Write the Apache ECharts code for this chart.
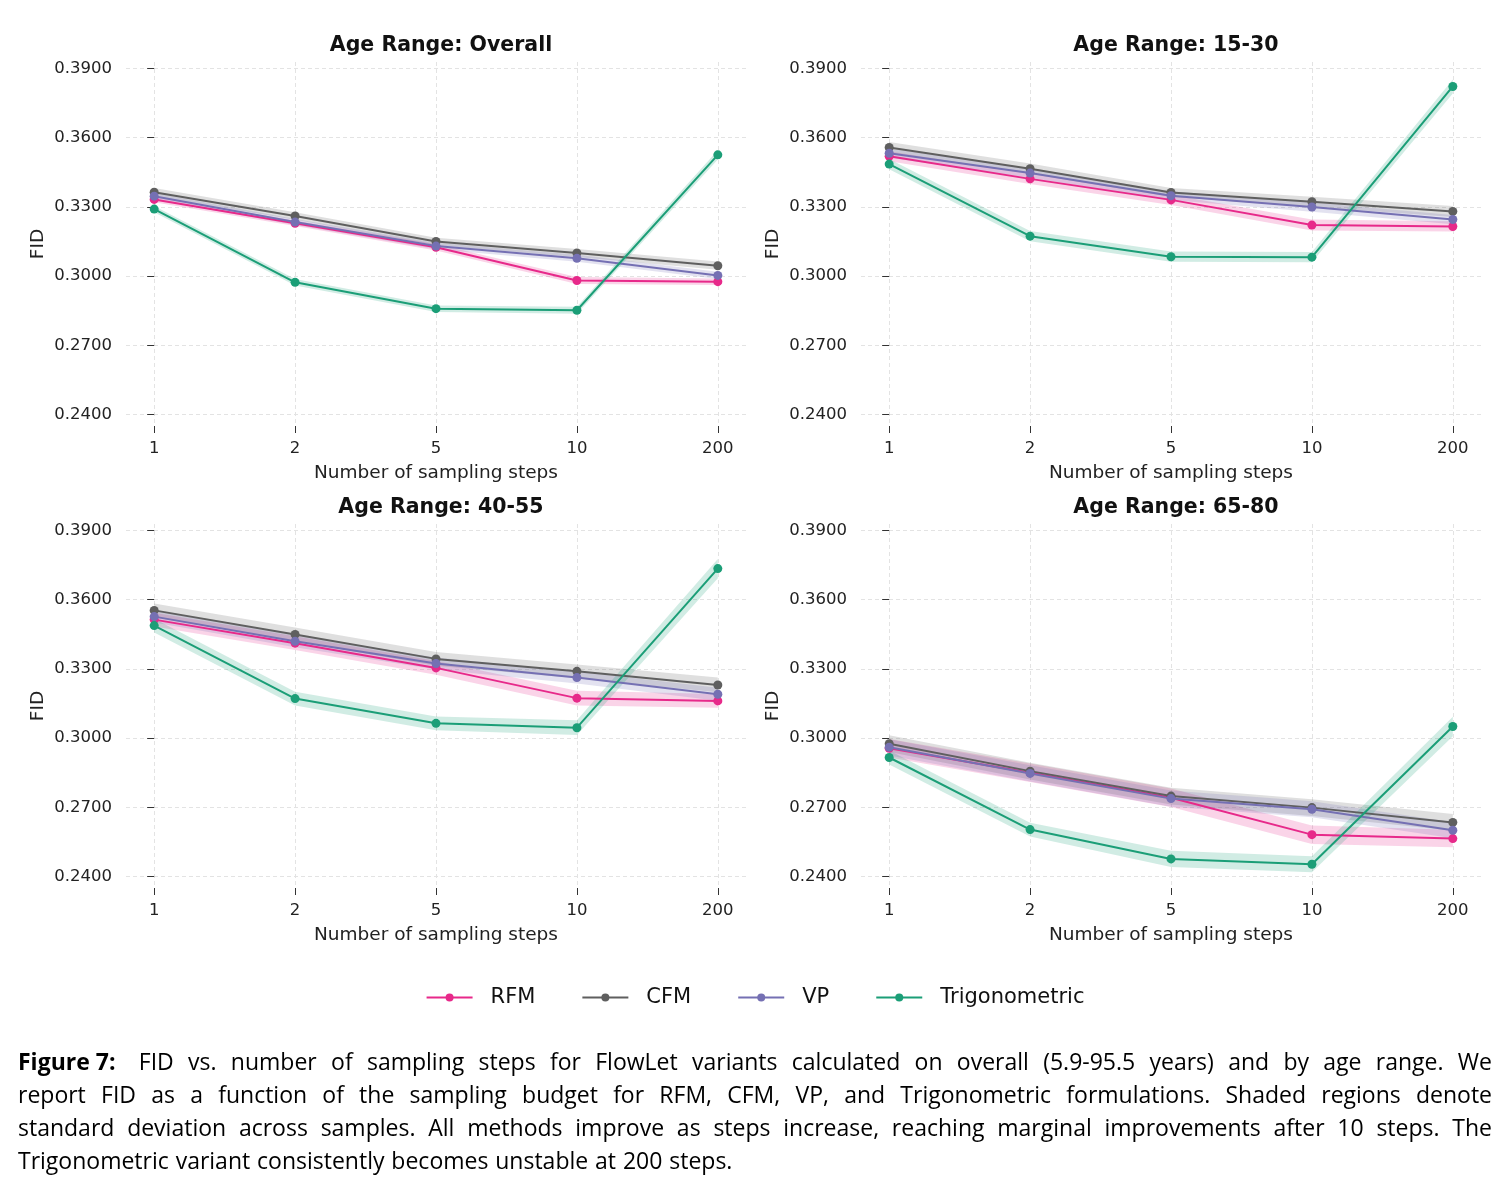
<!DOCTYPE html>
<html lang="en">
<head>
<meta charset="UTF-8">
<title>FID vs. number of sampling steps</title>
<script src="https://cdn.jsdelivr.net/npm/echarts@6/dist/echarts.min.js"></script>
<style>
  html, body { margin: 0; padding: 0; background: #fff; }
  #main { width: 1510px; height: 1191px; }
</style>
</head>
<body>
<div id="main"></div>
<script>
// ---- data ----
var steps = ['1', '2', '5', '10', '200'];
var methods = ['RFM', 'CFM', 'VP', 'Trigonometric'];
var panelTitles = ['Age Range: Overall', 'Age Range: 15-30', 'Age Range: 40-55', 'Age Range: 65-80'];
var yTicks = [0.24, 0.27, 0.30, 0.33, 0.36, 0.39];

// overall
var rfmOverall  = [0.3332, 0.3229, 0.3125, 0.2981, 0.2976];
var cfmOverall  = [0.3363, 0.3260, 0.3150, 0.3100, 0.3045];
var vpOverall   = [0.3346, 0.3234, 0.3130, 0.3077, 0.3003];
var trigOverall = [0.3290, 0.2973, 0.2859, 0.2852, 0.3525];
var rfmOverallSd  = [0.0012, 0.0012, 0.0014, 0.0015, 0.0014];
var cfmOverallSd  = [0.0018, 0.0016, 0.0016, 0.0017, 0.0018];
var vpOverallSd   = [0.0014, 0.0013, 0.0014, 0.0015, 0.0016];
var trigOverallSd = [0.0014, 0.0014, 0.0014, 0.0015, 0.0020];

// 15-30
var rfm1530  = [0.3519, 0.3421, 0.3330, 0.3221, 0.3215];
var cfm1530  = [0.3557, 0.3465, 0.3362, 0.3322, 0.3280];
var vp1530   = [0.3532, 0.3446, 0.3348, 0.3299, 0.3245];
var trig1530 = [0.3485, 0.3173, 0.3084, 0.3082, 0.3821];
var rfm1530Sd  = [0.0022, 0.0022, 0.0022, 0.0024, 0.0022];
var cfm1530Sd  = [0.0024, 0.0022, 0.0020, 0.0022, 0.0024];
var vp1530Sd   = [0.0020, 0.0020, 0.0019, 0.0020, 0.0020];
var trig1530Sd = [0.0022, 0.0022, 0.0022, 0.0022, 0.0030];

// 40-55
var rfm4055  = [0.3513, 0.3411, 0.3304, 0.3173, 0.3161];
var cfm4055  = [0.3553, 0.3449, 0.3343, 0.3289, 0.3230];
var vp4055   = [0.3526, 0.3419, 0.3323, 0.3262, 0.3190];
var trig4055 = [0.3487, 0.3171, 0.3064, 0.3045, 0.3734];
var rfm4055Sd  = [0.0030, 0.0030, 0.0030, 0.0032, 0.0030];
var cfm4055Sd  = [0.0030, 0.0030, 0.0030, 0.0030, 0.0032];
var vp4055Sd   = [0.0026, 0.0026, 0.0026, 0.0026, 0.0028];
var trig4055Sd = [0.0030, 0.0030, 0.0030, 0.0032, 0.0042];

// 65-80
var rfm6580  = [0.2956, 0.2850, 0.2742, 0.2582, 0.2565];
var cfm6580  = [0.2976, 0.2857, 0.2749, 0.2699, 0.2635];
var vp6580   = [0.2960, 0.2847, 0.2738, 0.2692, 0.2601];
var trig6580 = [0.2916, 0.2604, 0.2477, 0.2454, 0.3050];
var rfm6580Sd  = [0.0040, 0.0040, 0.0040, 0.0040, 0.0038];
var cfm6580Sd  = [0.0036, 0.0036, 0.0036, 0.0036, 0.0036];
var vp6580Sd   = [0.0035, 0.0035, 0.0035, 0.0035, 0.0035];
var trig6580Sd = [0.0030, 0.0030, 0.0035, 0.0035, 0.0042];

var captionLead = 'Figure 7:';
var captionLines = [
  'FID vs. number of sampling steps for FlowLet variants calculated on overall (5.9-95.5 years) and by age range. We',
  'report FID as a function of the sampling budget for RFM, CFM, VP, and Trigonometric formulations. Shaded regions denote',
  'standard deviation across samples. All methods improve as steps increase, reaching marginal improvements after 10 steps. The',
  'Trigonometric variant consistently becomes unstable at 200 steps.'
];

var panels = [
  { means: [rfmOverall, cfmOverall, vpOverall, trigOverall], sds: [rfmOverallSd, cfmOverallSd, vpOverallSd, trigOverallSd] },
  { means: [rfm1530, cfm1530, vp1530, trig1530], sds: [rfm1530Sd, cfm1530Sd, vp1530Sd, trig1530Sd] },
  { means: [rfm4055, cfm4055, vp4055, trig4055], sds: [rfm4055Sd, cfm4055Sd, vp4055Sd, trig4055Sd] },
  { means: [rfm6580, cfm6580, vp6580, trig6580], sds: [rfm6580Sd, cfm6580Sd, vp6580Sd, trig6580Sd] }
];

// ---- styling / layout ----
var colors = ['#e7298a', '#5f5f5f', '#7570b3', '#1b9e77'];
var FONT = 'DejaVu Sans';
var gridBoxes = [
  { left: 126, top: 62, width: 620, height: 364 },
  { left: 861, top: 62, width: 620, height: 364 },
  { left: 126, top: 524, width: 620, height: 364 },
  { left: 861, top: 524, width: 620, height: 364 }
];
var xIdx = steps.map(function (s, i) { return i; });

var chart = echarts.init(document.getElementById('main'));

// shaded band = polygon through (x, mean-sd) and back through (x, mean+sd)
function bandRenderer(mean, sd, color) {
  return function (params, api) {
    if (params.dataIndex !== 0) return;
    var upper = [], lower = [];
    xIdx.forEach(function (x, i) {
      upper.push(api.coord([x, mean[i] + sd[i]]));
      lower.push(api.coord([x, mean[i] - sd[i]]));
    });
    return {
      type: 'polygon',
      shape: { points: upper.concat(lower.reverse()) },
      style: { fill: color, opacity: 0.2 },
      silent: true
    };
  };
}

var grids = [], xAxes = [], yAxes = [], titles = [], series = [];
gridBoxes.forEach(function (g, p) {
  grids.push({ left: g.left, top: g.top, width: g.width, height: g.height });
  titles.push({
    text: panelTitles[p],
    left: g.left + g.width / 2,
    top: g.top - 32,
    textAlign: 'center',
    textStyle: { fontFamily: FONT, fontSize: 20.5, fontWeight: 'bold', color: '#111' }
  });
  xAxes.push({
    type: 'value', gridIndex: p, min: -0.2, max: 4.2,
    name: 'Number of sampling steps', nameLocation: 'middle', nameGap: 38,
    nameTextStyle: { fontFamily: FONT, fontSize: 18.5, color: '#222' },
    axisLine: { show: false },
    axisTick: { show: true, length: 7, customValues: xIdx, lineStyle: { color: '#333' } },
    axisLabel: {
      customValues: xIdx, margin: 14, fontFamily: FONT, fontSize: 16.5, color: '#222',
      formatter: function (v) { return steps[Math.round(v)]; }
    },
    splitLine: { show: true, lineStyle: { color: '#e3e3e3', type: [4, 3], width: 1 } }
  });
  yAxes.push({
    type: 'value', gridIndex: p, min: 0.2351, max: 0.3927,
    name: 'FID', nameLocation: 'middle', nameGap: 78,
    nameTextStyle: { fontFamily: FONT, fontSize: 18.5, color: '#222' },
    axisLine: { show: false },
    axisTick: { show: true, length: 7, customValues: yTicks, lineStyle: { color: '#333' } },
    axisLabel: {
      customValues: yTicks, margin: 14, fontFamily: FONT, fontSize: 16.5, color: '#222',
      formatter: function (v) { return v.toFixed(4); }
    },
    splitLine: { show: true, lineStyle: { color: '#e3e3e3', type: [4, 3], width: 1 } }
  });

  methods.forEach(function (m, k) {
    var mean = panels[p].means[k], sd = panels[p].sds[k];
    series.push({
      type: 'custom', name: m + ' std', xAxisIndex: p, yAxisIndex: p,
      data: xIdx.map(function (x, i) { return [x, mean[i] - sd[i], mean[i] + sd[i]]; }),
      encode: { x: 0, y: [1, 2] },
      renderItem: bandRenderer(mean, sd, colors[k]),
      silent: true, z: 1
    });
  });
  methods.forEach(function (m, k) {
    var mean = panels[p].means[k];
    series.push({
      type: 'line', name: m, xAxisIndex: p, yAxisIndex: p,
      data: xIdx.map(function (x, i) { return [x, mean[i]]; }),
      symbol: 'circle', symbolSize: 9, showSymbol: true,
      itemStyle: { color: colors[k] },
      lineStyle: { color: colors[k], width: 2 },
      z: 3 + k,
      emphasis: { disabled: true }
    });
  });
});

// ---- caption, justified word by word ----
var measure = document.createElement('canvas').getContext('2d');
var CAP_FONT = 'Open Sans';
var capLeft = 18, capRight = 1492, capTop = 1062, capStep = 33;
function wordWidth(w, bold, size) {
  measure.font = (bold ? 'bold ' : '') + size + 'px "' + CAP_FONT + '"';
  return measure.measureText(w).width;
}
// pick a size so the fullest line fits with plain spacing
var widest = 0;
captionLines.slice(0, 3).forEach(function (line, li) {
  var txt = (li === 0 ? captionLead + '  ' : '') + line;
  widest = Math.max(widest, wordWidth(txt, false, 22));
});
var capSize = Math.min(23, 22 * (capRight - capLeft) / widest * 0.998);

var graphics = [];
captionLines.forEach(function (line, li) {
  var words = line.split(' ').map(function (w) { return { t: w, b: false }; });
  if (li === 0) words.unshift({ t: captionLead, b: true, lead: true });
  var total = 0;
  words.forEach(function (w) { w.w = wordWidth(w.t, w.b, capSize); total += w.w; });
  var last = li === captionLines.length - 1;
  var extra = li === 0 ? 9 : 0;
  var gap = last ? wordWidth(' ', false, capSize) * 1.15 : (capRight - capLeft - total - extra) / (words.length - 1);
  var x = capLeft;
  words.forEach(function (w) {
    graphics.push({
      type: 'text', left: x, top: capTop + li * capStep - capSize * 0.68 + 6, silent: true,
      style: {
        text: w.t, fill: '#000',
        font: (w.b ? 'bold ' : '') + capSize + 'px "' + CAP_FONT + '"'
      }
    });
    x += w.w + gap + (w.lead ? extra : 0);
  });
});

chart.setOption({
  animation: false,
  backgroundColor: '#fff',
  textStyle: { fontFamily: FONT },
  title: titles,
  grid: grids,
  xAxis: xAxes,
  yAxis: yAxes,
  legend: {
    data: methods,
    top: 982,
    left: 'center',
    itemWidth: 46,
    itemHeight: 10,
    itemGap: 46,
    selectedMode: false,
    textStyle: { fontFamily: FONT, fontSize: 21, color: '#111', padding: [0, 0, 0, 13] }
  },
  graphic: graphics,
  series: series
});
</script>
</body>
</html>
